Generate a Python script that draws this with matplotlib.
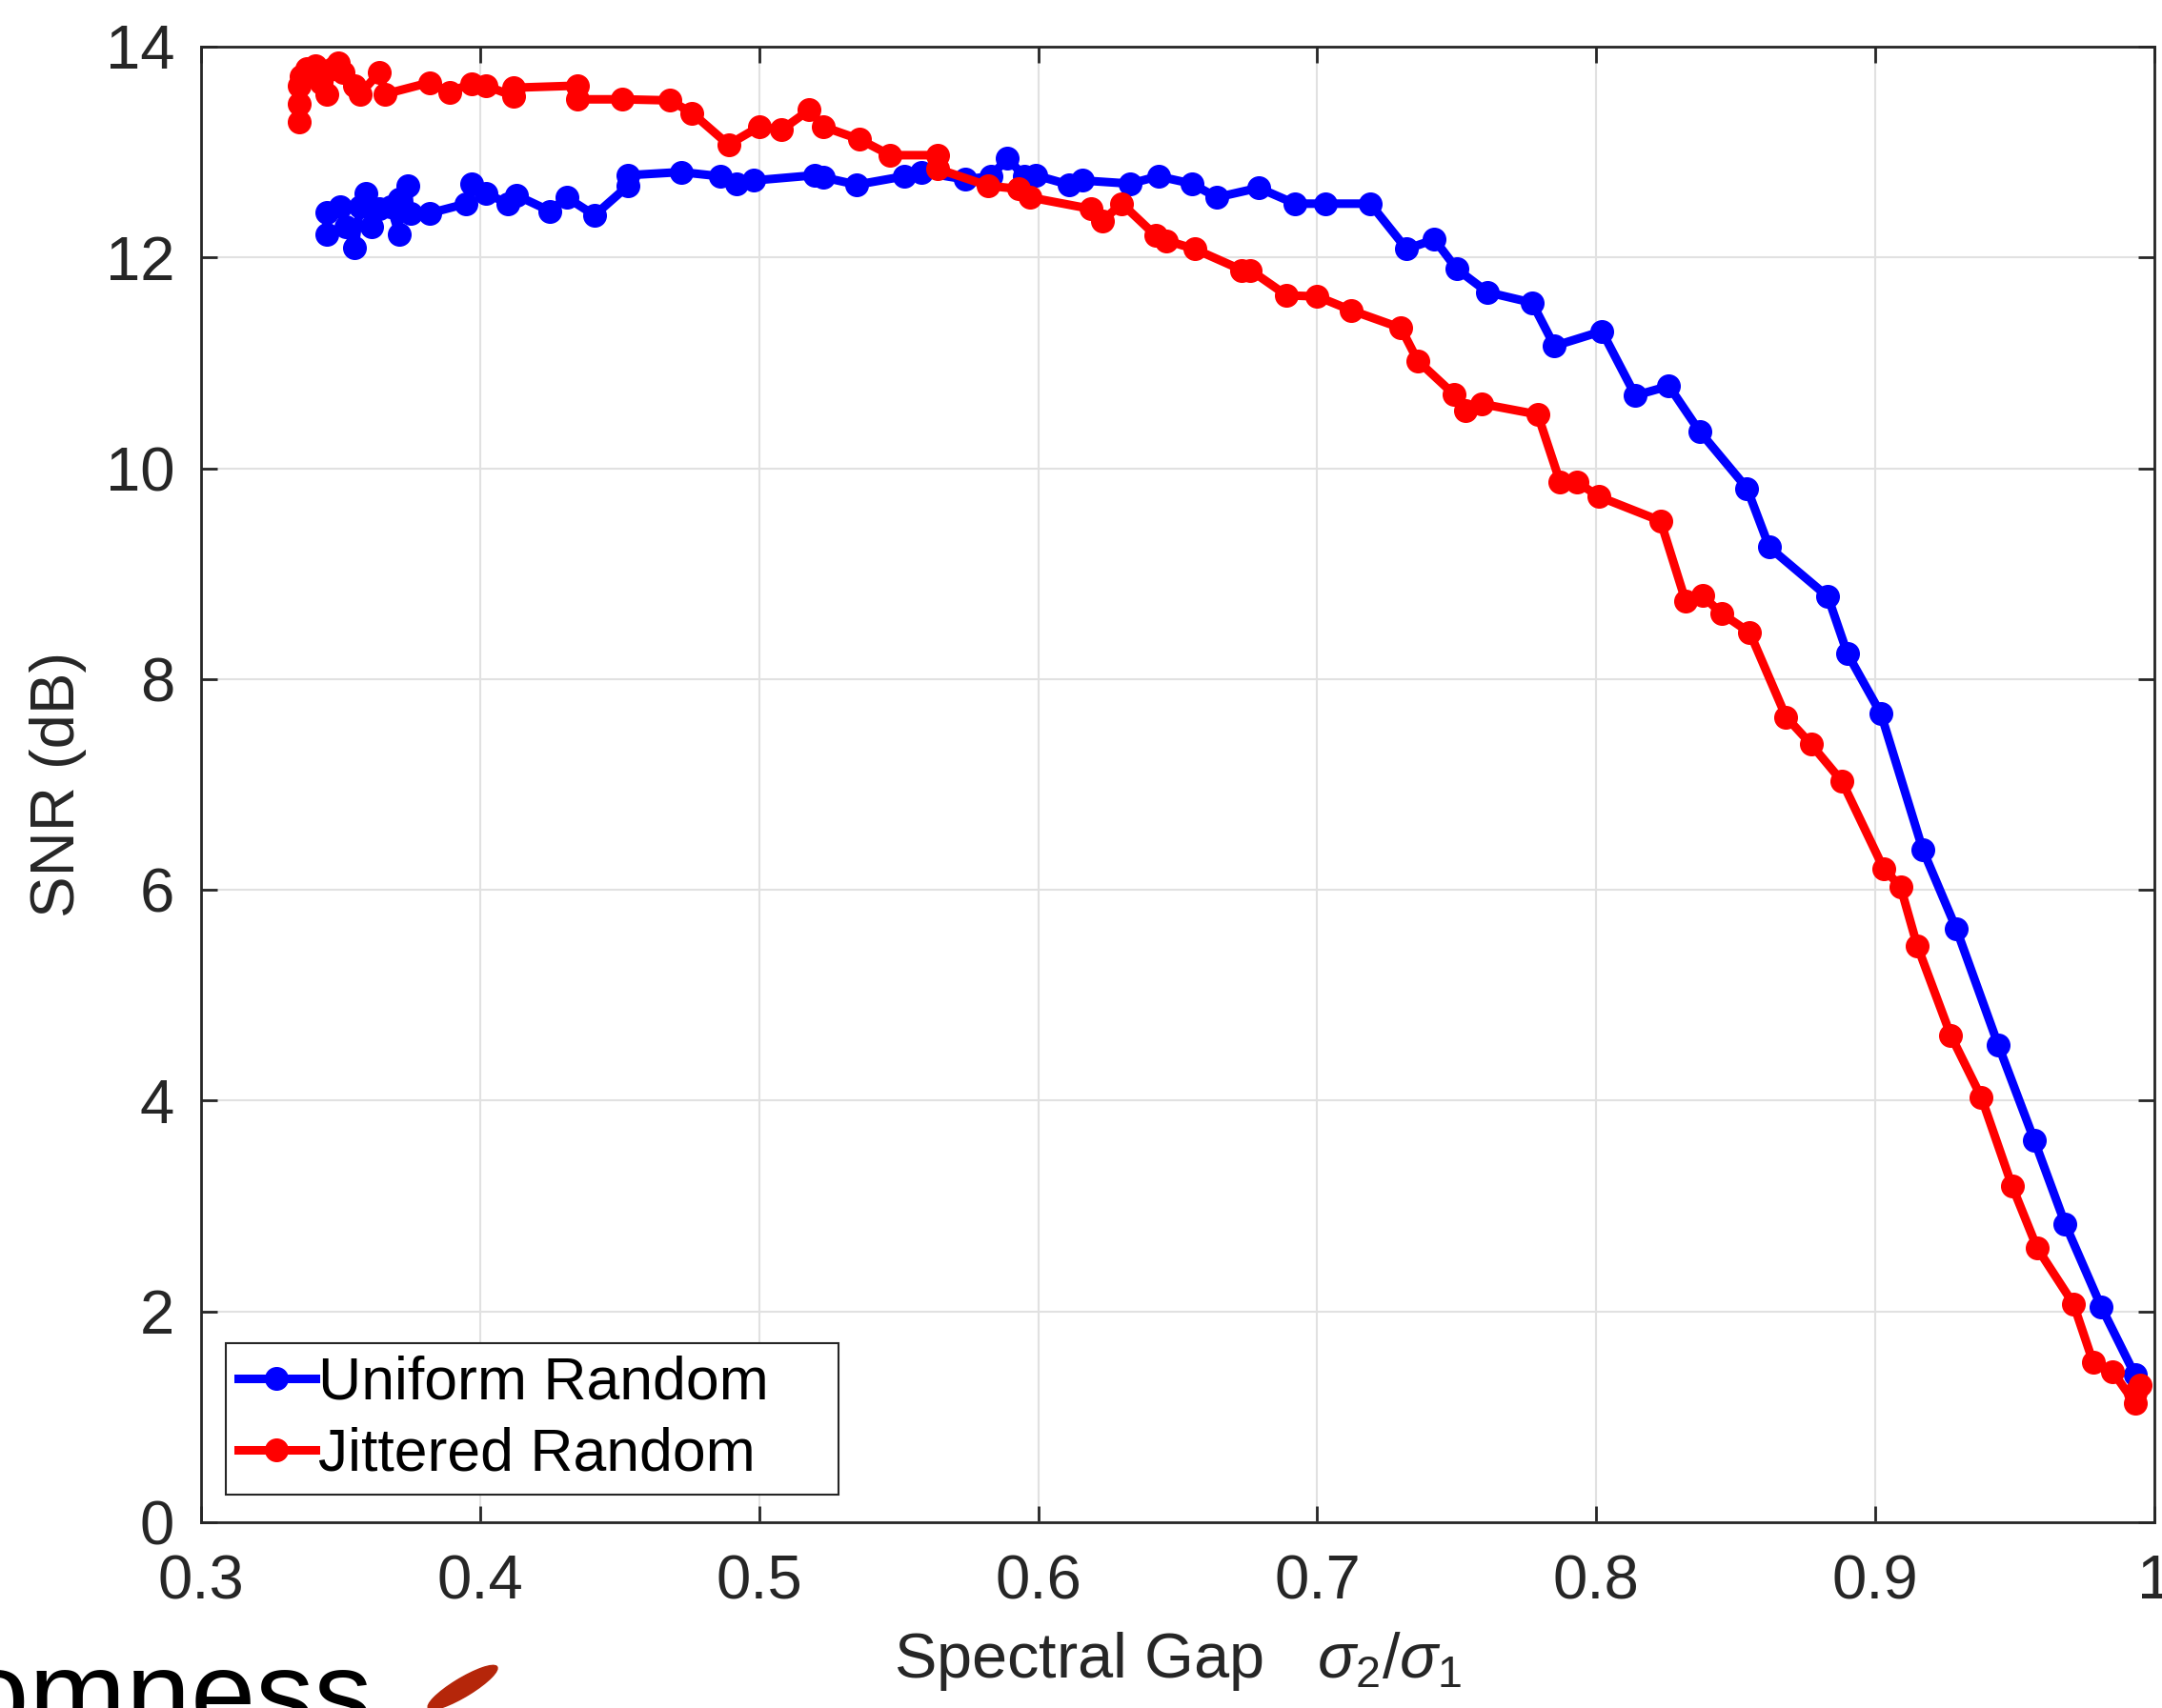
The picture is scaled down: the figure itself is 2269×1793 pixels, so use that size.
import matplotlib
matplotlib.use("Agg")
from matplotlib import pyplot as plt
from matplotlib.patches import Ellipse

plt.rcParams["font.family"] = ["Liberation Sans", "DejaVu Sans"]
plt.rcParams["mathtext.fontset"] = "custom"
plt.rcParams["mathtext.it"] = "Liberation Sans:italic"
plt.rcParams["mathtext.rm"] = "Liberation Sans"

# uniform random sampling: spectral gap vs SNR
uni_gap = [0.345, 0.345, 0.350, 0.352, 0.355, 0.357, 0.359, 0.361, 0.364, 0.368,
           0.371, 0.371, 0.374, 0.375, 0.382, 0.395, 0.397, 0.402, 0.410, 0.413,
           0.425, 0.431, 0.441, 0.453, 0.453, 0.472, 0.486, 0.492, 0.498, 0.520,
           0.523, 0.535, 0.552, 0.558, 0.574, 0.583, 0.589, 0.595, 0.599, 0.611,
           0.616, 0.633, 0.643, 0.655, 0.664, 0.679, 0.692, 0.703, 0.719, 0.732,
           0.742, 0.750, 0.761, 0.777, 0.785, 0.802, 0.814, 0.826, 0.837, 0.854,
           0.862, 0.883, 0.890, 0.902, 0.917, 0.929, 0.944, 0.957, 0.968, 0.981,
           0.993]
uni_snr = [12.22, 12.43, 12.48, 12.29, 12.09, 12.48, 12.61, 12.29, 12.46, 12.48,
           12.22, 12.55, 12.68, 12.42, 12.42, 12.51, 12.70, 12.61, 12.51, 12.59,
           12.44, 12.57, 12.40, 12.68, 12.78, 12.81, 12.77, 12.70, 12.73, 12.78,
           12.76, 12.69, 12.77, 12.81, 12.74, 12.77, 12.94, 12.77, 12.78, 12.69,
           12.73, 12.70, 12.77, 12.70, 12.57, 12.66, 12.51, 12.51, 12.51, 12.08,
           12.17, 11.89, 11.67, 11.57, 11.16, 11.30, 10.69, 10.78, 10.35, 9.81,
           9.25, 8.78, 8.24, 7.67, 6.38, 5.63, 4.53, 3.62, 2.83, 2.04,
           1.40]

# jittered random sampling
jit_gap = [0.335, 0.335, 0.335, 0.336, 0.338, 0.341, 0.343, 0.345, 0.347, 0.349,
           0.351, 0.355, 0.357, 0.364, 0.366, 0.382, 0.389, 0.397, 0.402, 0.412,
           0.412, 0.435, 0.435, 0.451, 0.468, 0.476, 0.489, 0.500, 0.508, 0.518,
           0.523, 0.536, 0.547, 0.564, 0.564, 0.582, 0.593, 0.597, 0.619, 0.623,
           0.630, 0.642, 0.646, 0.656, 0.673, 0.676, 0.689, 0.700, 0.712, 0.730,
           0.736, 0.749, 0.753, 0.759, 0.779, 0.787, 0.793, 0.801, 0.823, 0.832,
           0.838, 0.845, 0.855, 0.868, 0.877, 0.888, 0.903, 0.909, 0.915, 0.927,
           0.938, 0.949, 0.958, 0.971, 0.978, 0.985, 0.993, 0.993, 0.995]
jit_snr = [13.29, 13.46, 13.63, 13.72, 13.79, 13.82, 13.66, 13.55, 13.79, 13.85,
           13.76, 13.63, 13.55, 13.76, 13.55, 13.66, 13.57, 13.65, 13.63, 13.53,
           13.61, 13.63, 13.50, 13.50, 13.49, 13.37, 13.07, 13.24, 13.21, 13.40,
           13.24, 13.12, 12.97, 12.97, 12.84, 12.68, 12.65, 12.57, 12.46, 12.35,
           12.51, 12.21, 12.16, 12.08, 11.88, 11.88, 11.64, 11.63, 11.50, 11.33,
           11.02, 10.70, 10.55, 10.61, 10.51, 9.87, 9.87, 9.73, 9.50, 8.74,
           8.79, 8.62, 8.44, 7.64, 7.38, 7.03, 6.20, 6.03, 5.47, 4.62,
           4.03, 3.19, 2.60, 2.07, 1.52, 1.43, 1.13, 1.23, 1.30]

dark = "#262626"

fig = plt.figure(figsize=(22.69, 17.93), dpi=100)
ax = fig.add_axes([0.093, 0.1088, 0.9035, 0.8639])

ax.plot(uni_gap, uni_snr, "-o", color="#0000ff", lw=6.5, ms=17, label="Uniform Random")
ax.plot(jit_gap, jit_snr, "-o", color="#ff0000", lw=6.5, ms=17, label="Jittered Random")

ax.set_xlim(0.3, 1.0)
ax.set_ylim(0, 14)
ax.set_xticks([0.3, 0.4, 0.5, 0.6, 0.7, 0.8, 0.9, 1.0])
ax.set_xticklabels(["0.3", "0.4", "0.5", "0.6", "0.7", "0.8", "0.9", "1"])
ax.set_yticks(range(0, 15, 2))
ax.grid(True, color="#e1e1e1", lw=1.5)
ax.set_axisbelow(True)
ax.tick_params(direction="in", length=12, width=2, colors=dark, labelsize=47,
               top=True, right=True)
ax.tick_params(axis="x", pad=24)
ax.tick_params(axis="y", pad=20)
for sp in ax.spines.values():
    sp.set_color(dark)
    sp.set_linewidth(2)

ax.set_xlabel(r"Spectral Gap   $\sigma_2/\sigma_1$", fontsize=48, color=dark, labelpad=14)
ax.set_ylabel("SNR (dB)", fontsize=47, color=dark, labelpad=14)

leg = ax.legend(loc="lower left", bbox_to_anchor=(0.0127, 0.0187, 0.3136, 0.1),
                mode="expand", borderaxespad=0, fontsize=45, handlelength=1.3,
                handletextpad=0.05, labelspacing=0.25, borderpad=0.2,
                fancybox=False, framealpha=1, edgecolor=dark)
leg.get_frame().set_linewidth(1.5)

# slide title fragment below the plot
fig.text(0.172, -0.0145, "Randomness", fontsize=88, color="black",
         ha="right", va="baseline")
fig.patches.append(Ellipse((0.214, 0.012), 0.04, 0.01, angle=38,
                           transform=fig.transFigure, color="#b5260a"))

fig.savefig("out.png", dpi=100)
